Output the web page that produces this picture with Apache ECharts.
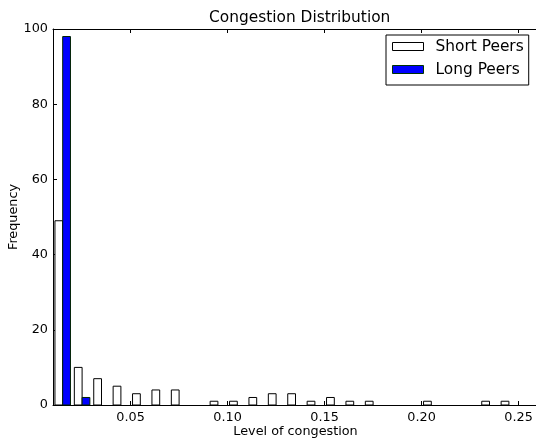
<!DOCTYPE html>
<html>
<head>
<meta charset="utf-8">
<script src="https://cdn.jsdelivr.net/npm/echarts@6/dist/echarts.min.js"></script>
<style>
html,body{margin:0;padding:0;background:#fff;}
#chart{width:536px;height:438px;}
</style>
</head>
<body>
<div id="chart"></div>
<script>
// Histogram bins (left edges), bin width 0.01
const binLefts = [0.01,0.02,0.03,0.04,0.05,0.06,0.07,0.08,0.09,0.10,0.11,0.12,0.13,0.14,0.15,0.16,0.17,0.18,0.19,0.20,0.21,0.22,0.23,0.24];
const binWidth = 0.01;
const shortPeers = [49,10,7,5,3,4,4,0,1,1,2,3,3,1,2,1,1,0,0,1,0,0,1,1];
const longPeers  = [98,2,0,0,0,0,0,0,0,0,0,0,0,0,0,0,0,0,0,0,0,0,0,0];
const xTicks = [0.05,0.10,0.15,0.20,0.25];
const yTicks = [0,20,40,60,80,100];

const FONT = 'DejaVu Sans';

function histData(counts, f0, f1){
  const out = [];
  counts.forEach((c,i)=>{
    if (c > 0) out.push([binLefts[i] + f0*binWidth, binLefts[i] + f1*binWidth, c]);
  });
  return out;
}

function makeRender(fill, stroke){
  return function(params, api){
    const p0 = api.coord([api.value(0), api.value(2)]);
    const p1 = api.coord([api.value(1), 0]);
    return {
      type:'rect',
      shape:{x:p0[0], y:p0[1], width:p1[0]-p0[0], height:p1[1]-p0[1]},
      style:{fill:fill, stroke:stroke, lineWidth:1}
    };
  };
}

const chart = echarts.init(document.getElementById('chart'), null, {renderer:'canvas'});
chart.setOption({
  animation:false,
  backgroundColor:'#fff',
  title:{
    text:'Congestion Distribution',
    left:204, top:5,
    textStyle:{fontFamily:FONT, fontSize:15.4, fontWeight:'normal', color:'#000'}
  },
  legend:{
    orient:'vertical',
    left:386, top:35,
    padding:[4,5,8,6],
    itemGap:8,
    itemWidth:31, itemHeight:8,
    borderColor:'#000', borderWidth:1,
    backgroundColor:'#fff',
    textStyle:{fontFamily:FONT, fontSize:15.4, color:'#000', padding:[0,0,0,7]},
    data:[
      {name:'Short Peers', icon:'rect', itemStyle:{color:'#fff', borderColor:'#000', borderWidth:1}},
      {name:'Long Peers', icon:'rect', itemStyle:{color:'#0000ff', borderColor:'#003300', borderWidth:1}}
    ]
  },
  grid:{left:53, top:29, width:485, height:376, containLabel:false, outerBoundsMode:'none'},
  xAxis:[{
    type:'value', min:0.01, max:0.26,
    name:'Level of congestion', nameLocation:'middle', nameGap:20, nameMoveOverlap:false,
    nameTextStyle:{fontFamily:FONT, fontSize:12.8, color:'#000'},
    axisLine:{show:true, onZero:false, lineStyle:{color:'#000', width:1}},
    axisTick:{show:true, inside:true, length:4, customValues:xTicks, lineStyle:{color:'#000'}},
    axisLabel:{show:true, customValues:xTicks, margin:6, fontFamily:FONT, fontSize:12.8, color:'#000',
      formatter:function(v){return v.toFixed(2);}},
    splitLine:{show:false}
  },{
    type:'value', min:0.01, max:0.26, position:'top',
    axisLine:{show:true, onZero:false, lineStyle:{color:'#000', width:1}},
    axisTick:{show:true, inside:true, length:4, customValues:xTicks, lineStyle:{color:'#000'}},
    axisLabel:{show:false},
    splitLine:{show:false}
  }],
  yAxis:[{
    type:'value', min:0, max:100, interval:20,
    name:'Frequency', nameLocation:'middle', nameGap:33, nameRotate:90, nameMoveOverlap:false,
    nameTextStyle:{fontFamily:FONT, fontSize:12.8, color:'#000'},
    axisLine:{show:true, lineStyle:{color:'#000', width:1}},
    axisTick:{show:true, inside:true, length:4, lineStyle:{color:'#000'}},
    axisLabel:{margin:5, fontFamily:FONT, fontSize:12.8, color:'#000'},
    splitLine:{show:false}
  }],
  series:[
    {
      name:'Short Peers', type:'custom', xAxisIndex:0, yAxisIndex:0,
      itemStyle:{color:'#fff', borderColor:'#000'},
      encode:{x:[0,1], y:2},
      renderItem:makeRender('#ffffff', '#000000'),
      data:histData(shortPeers, 0.1, 0.5)
    },
    {
      name:'Long Peers', type:'custom', xAxisIndex:0, yAxisIndex:0,
      itemStyle:{color:'#0000ff', borderColor:'#003300'},
      encode:{x:[0,1], y:2},
      renderItem:makeRender('#0000ff', '#002200'),
      data:histData(longPeers, 0.5, 0.9)
    }
  ]
});
</script>
</body>
</html>
